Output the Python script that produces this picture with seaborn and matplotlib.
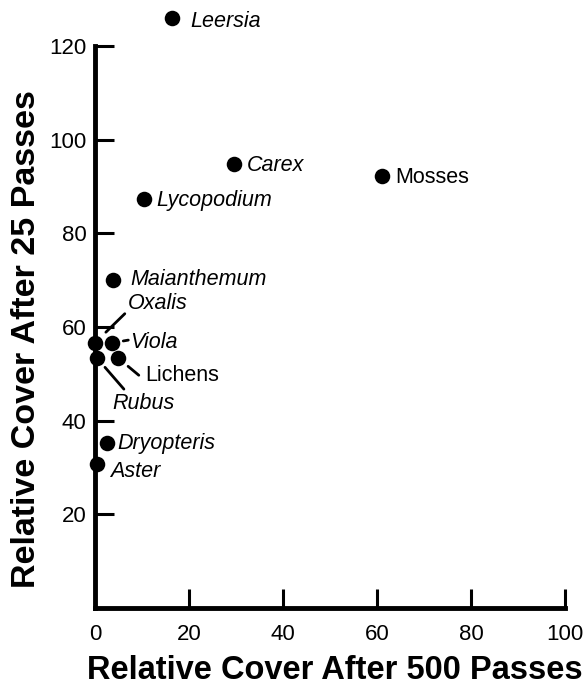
import matplotlib
matplotlib.use("Agg")
import matplotlib.pyplot as plt
import seaborn as sns
import pandas as pd

# species cover values
species = ["Leersia", "Carex", "Lycopodium", "Mosses", "Maianthemum", "Oxalis",
           "Viola", "Lichens", "Rubus", "Dryopteris", "Aster"]
cover_500 = [16.4, 29.6, 10.4, 61.0, 3.9, 0.0, 3.7, 4.9, 0.4, 2.5, 0.4]
cover_25 = [126.0, 94.8, 87.4, 92.3, 70.0, 56.6, 56.6, 53.4, 53.4, 35.2, 30.8]
italic = [True, True, True, False, True, True, True, False, True, True, True]

df = pd.DataFrame({"species": species, "x": cover_500, "y": cover_25})

sns.set_style("ticks")
plt.rcParams["font.family"] = ["Liberation Sans", "DejaVu Sans"]
plt.rcParams["text.color"] = "black"
plt.rcParams["axes.labelcolor"] = "black"

fig = plt.figure(figsize=(5.86, 6.88), dpi=100)
ax = fig.add_axes([0.162, 0.1163, 0.802, 0.8714])

sns.scatterplot(data=df, x="x", y="y", color="black", s=125, edgecolor="black",
                linewidth=0, ax=ax, clip_on=False, zorder=3)

# label offsets in points (text start, relative to the dot)
label_off = {
    "Leersia": (13, -3), "Carex": (9, -1), "Lycopodium": (9, -1.5), "Mosses": (9.5, -1.5),
    "Maianthemum": (12, 0.5), "Oxalis": (24, 28), "Viola": (13, 0.5), "Lichens": (19.5, -13),
    "Rubus": (11.5, -33), "Dryopteris": (8, -0.5), "Aster": (9.5, -5.5),
}
# leader lines: far end offset (points) and gap near the dot (points)
leaders = {
    "Oxalis": ((21.5, 21), 11), "Viola": ((11.5, 2), 8),
    "Lichens": ((15, -12.5), 9.5), "Rubus": ((19.5, -22.5), 9),
}

for name, x, y, it in zip(species, cover_500, cover_25, italic):
    dx, dy = label_off[name]
    ax.annotate(name, (x, y), xytext=(dx, dy), textcoords="offset points",
                ha="left", va="center", fontsize=15.5, color="black",
                style="italic" if it else "normal", annotation_clip=False)
    if name in leaders:
        (lx, ly), gap = leaders[name]
        ax.annotate("", (x, y), xytext=(lx, ly), textcoords="offset points",
                    annotation_clip=False,
                    arrowprops=dict(arrowstyle="-", color="black", lw=2,
                                    shrinkA=0, shrinkB=gap))

ax.set_xlim(0, 100)
ax.set_ylim(0, 128)
ax.set_xticks([0, 20, 40, 60, 80, 100])
ax.set_yticks([20, 40, 60, 80, 100, 120])
sns.despine(ax=ax)
ax.spines["left"].set_bounds(0, 120)
for side in ["left", "bottom"]:
    ax.spines[side].set_linewidth(3.5)
    ax.spines[side].set_color("black")
ax.tick_params(axis="both", direction="in", length=14, width=2.2, color="black",
               labelsize=16, labelcolor="black")
ax.tick_params(axis="y", pad=6)
ax.tick_params(axis="x", pad=11.5)

ax.set_xlabel("Relative Cover After 500 Passes", fontsize=23.5, fontweight="bold")
ax.set_ylabel("Relative Cover After 25 Passes", fontsize=24.5, fontweight="bold")
ax.xaxis.set_label_coords(0.51, -0.078)
ax.yaxis.set_label_coords(-0.113, 0.449)

fig.savefig("out.png", dpi=100)
